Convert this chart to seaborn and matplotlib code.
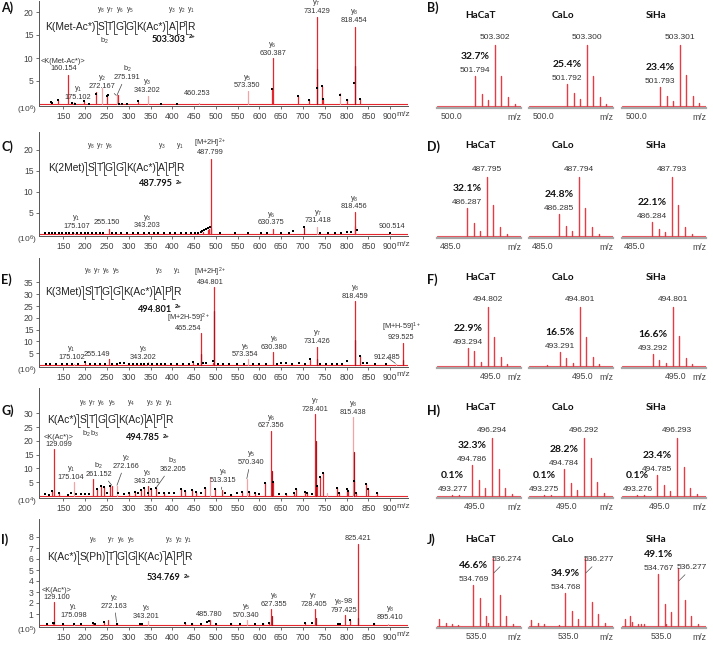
import numpy as np
import pandas as pd
import matplotlib
matplotlib.use("Agg")
import matplotlib.pyplot as plt
import matplotlib.transforms as mtransforms
from matplotlib.lines import Line2D
import seaborn as sns

# ========================= DATA =========================
# ---- Panel A : K(Met-Ac*)STGGK(Ac*)APR  (x10^6)
a_mz = [121, 137, 160.154, 175.102, 197, 224, 239, 249.5, 272.167, 275.191, 322, 343.202, 460.253, 573.350, 629,
        630.387, 688, 714, 731.429, 732.0, 743, 747, 784, 801, 818.454, 819.0, 831]
a_int = [0.5, 0.9, 6.3, 0.4, 0.6, 2.6, 3.4, 2.0, 1.9, 1.9, 0.5, 1.7, 0.3, 2.9, 3.3,
         10.0, 1.7, 0.8, 19.0, 7.6, 3.9, 1.1, 2.4, 1.0, 16.8, 8.3, 1.0]
a_tone = ["r", "r", "r", "p", "r", "r", "p", "r", "p", "r", "r", "p", "p", "p", "r",
          "r", "r", "r", "r", "d", "r", "r", "p", "r", "r", "d", "r"]
a_dot_mz = [121, 124, 137, 169, 176, 197, 208, 224, 249.5, 252, 278, 284, 296, 322, 374, 411, 629, 688, 714, 731,
            743, 747, 784, 801, 818, 831]
a_dot_int = [0.5, 0.3, 0.9, 0.2, 0.1, 0.7, 0.1, 2.2, 1.8, 2.0, 0.1, 0.1, 0.1, 0.6, 0.1, 0.1, 3.3, 1.7, 0.8, 3.4,
             3.9, 1.1, 2.0, 0.9, 4.5, 1.0]

# ---- Panel C : K(2Met)STGGK(Ac*)APR  (x10^6)
c_mz = [175.107, 255.150, 343.203, 470, 481, 485, 487.799, 488.3, 630.375, 703, 731.418, 818.456, 819.0, 900.514]
c_int = [0.3, 1.1, 0.2, 0.5, 0.9, 1.3, 17.8, 1.5, 1.2, 1.5, 1.7, 5.2, 1.8, 0.2]
c_tone = ["p", "r", "p", "r", "r", "r", "r", "r", "r", "d", "p", "r", "r", "p"]
c_dot_mz = [108, 116, 124, 131, 139, 147, 156, 164, 172, 181, 190, 199, 207, 216, 224, 233, 242, 262, 271, 283,
            297, 309, 322, 334, 346, 357, 368, 381, 394, 407, 420, 432, 444, 452, 459, 465, 469, 473, 478, 482,
            486, 509, 545, 574, 604, 617, 650, 668, 676, 703, 738, 758, 774, 787, 800, 810, 823, 900]
c_dot_int = [0.2, 0.15, 0.2, 0.15, 0.2, 0.15, 0.2, 0.15, 0.2, 0.15, 0.2, 0.15, 0.2, 0.15, 0.2, 0.15, 0.2, 0.3, 0.15, 0.2,
             0.15, 0.2, 0.15, 0.2, 0.15, 0.2, 0.15, 0.2, 0.15, 0.2, 0.2, 0.15, 0.2, 0.3, 0.3, 0.5, 0.7, 0.9, 1.1, 1.4,
             1.6, 0.2, 0.2, 0.2, 0.2, 0.2, 0.2, 0.2, 0.6, 1.6, 0.3, 0.2, 0.2, 0.2, 0.5, 0.4, 1.0, 0.25]

# ---- Panel E : K(3Met)STGGK(Ac*)APR  (x10^6)
e_mz = [175.102, 199, 255.149, 343.202, 448, 465.254, 466.0, 493, 494.801, 495.3, 573.354, 630.380, 717, 731.426,
        732.0, 818.459, 819.0, 830, 912.485, 929.525, 930.0]
e_int = [0.5, 0.8, 2.4, 1.3, 1.0, 13.5, 4.5, 1.0, 33.0, 23.0, 2.4, 5.3, 2.0, 7.8, 2.4, 27.0, 10.5, 3.8, 0.6, 9.5, 2.0]
e_tone = ["p", "r", "r", "p", "r", "r", "d", "r", "r", "d", "p", "r", "r", "r", "d", "r", "d", "r", "p", "r", "d"]
e_dot_mz = [110, 120, 133, 146, 158, 170, 183, 199, 210, 222, 235, 246, 262, 272, 281, 290, 300, 309, 318, 327,
            336, 345, 354, 364, 373, 383, 396, 410, 425, 438, 448, 459, 470, 478, 493, 505, 516, 530, 548, 565,
            585, 600, 616, 640, 650, 662, 675, 690, 704, 717, 740, 752, 766, 779, 790, 800, 830, 838, 848, 866, 890]
e_dot_int = [0.4, 0.3, 0.5, 0.4, 0.3, 0.5, 0.4, 1.4, 0.4, 0.3, 0.4, 0.3, 0.5, 0.4, 1.0, 0.9, 0.4, 0.3, 0.4, 0.5,
             0.4, 0.3, 0.5, 0.6, 0.4, 0.3, 0.5, 0.4, 0.6, 0.5, 1.2, 0.6, 0.7, 0.9, 1.7, 0.4, 0.6, 0.4, 0.5, 0.4,
             0.4, 0.5, 0.6, 0.5, 1.0, 1.0, 0.5, 1.0, 0.4, 2.5, 0.4, 0.5, 0.4, 0.4, 0.6, 1.5, 3.8, 1.0, 1.0, 0.5, 0.4]

# ---- Panel G : K(Ac*)STGGK(Ac)APR  (x10^4)
g_mz = [123, 129.099, 140, 175.104, 217, 226, 236, 244, 257, 261.152,
        272.166, 300, 315, 328, 336, 343.201, 352, 362.205, 380, 420,
        428, 445, 455, 475, 485.8, 497, 513.315, 535, 560, 570.340,
        575, 590, 612, 627.356, 628.0, 632, 660, 680, 685, 705,
        710, 728.401, 729.0, 732, 738, 745, 755, 778, 782, 800,
        803, 815.438, 816.0, 818, 822, 845, 850, 870]
g_int = [1.7, 17.0, 1.0, 5.0, 6.0, 2.5, 3.8, 3.2, 3.5, 3.8,
         3.8, 1.0, 1.5, 2.0, 2.8, 3.6, 2.5, 2.8, 1.0, 2.5,
         1.8, 2.0, 1.5, 3.0, 7.0, 2.5, 2.3, 0.5, 1.5, 6.3,
         1.5, 1.0, 4.8, 23.7, 9.0, 5.0, 0.8, 1.0, 2.5, 1.5,
         1.0, 29.8, 20.0, 3.5, 7.0, 8.5, 1.0, 3.0, 1.2, 2.6,
         1.8, 28.5, 15.9, 5.3, 1.0, 4.5, 2.5, 1.0]
g_tone = ["r", "r", "r", "p", "r", "r", "r", "r", "r", "r",
          "p", "r", "r", "r", "r", "r", "r", "r", "r", "r",
          "r", "r", "r", "r", "p", "r", "r", "r", "r", "p",
          "r", "r", "r", "r", "d", "r", "r", "r", "r", "r",
          "r", "r", "d", "r", "r", "r", "p", "r", "r", "r",
          "r", "p", "d", "r", "r", "r", "r", "r"]
g_dot_mz = [108, 116, 123, 140, 160, 167, 180, 190, 200, 208, 226, 236, 244, 250, 257, 275, 290, 300, 315, 322,
            328, 336, 345, 352, 362, 370, 380, 392, 405, 420, 428, 445, 455, 465, 475, 497, 520, 535, 548, 560,
            575, 590, 600, 612, 632, 645, 660, 680, 685, 705, 710, 720, 732, 738, 745, 778, 782, 800, 803, 818,
            822, 845, 850, 870]
g_dot_int = [0.8, 0.5, 1.7, 1.0, 0.5, 1.0, 0.6, 0.8, 0.6, 0.8, 2.5, 3.8, 3.2, 1.0, 3.5, 1.0, 0.8, 1.0, 1.5, 1.2,
             2.0, 2.8, 1.0, 2.5, 2.8, 1.0, 1.0, 1.2, 1.0, 2.5, 1.8, 2.0, 1.5, 1.0, 3.0, 2.5, 1.0, 0.5, 1.0, 1.5,
             1.5, 1.0, 0.8, 4.8, 5.0, 0.6, 0.8, 1.0, 2.5, 1.5, 1.0, 0.8, 3.5, 7.0, 8.5, 3.0, 1.2, 2.6, 1.8, 5.3,
             1.0, 4.5, 2.5, 1.0]

# ---- Panel I : K(Ac*)S(Ph)TGGK(Ac)APR  (x10^5)
i_mz = [112, 125, 129.100, 150, 175.098, 217, 243, 253, 272.163, 343.201,
        430, 446, 485.780, 500, 534, 570.340, 608, 622, 627.355, 628.0,
        705, 728.405, 729.0, 780, 797.425, 807, 825.421, 826.0, 862, 895.410]
i_int = [0.1, 0.3, 2.1, 0.1, 0.2, 0.2, 0.3, 0.5, 0.2, 0.4,
         0.2, 0.2, 0.45, 0.1, 0.15, 0.45, 0.15, 0.3, 1.5, 0.85,
         0.2, 1.5, 0.6, 0.2, 0.9, 0.45, 7.4, 0.6, 0.15, 0.1]
i_tone = ["r", "r", "r", "r", "p", "r", "r", "r", "r", "p",
          "r", "r", "r", "r", "r", "p", "r", "r", "r", "d",
          "r", "r", "d", "r", "r", "r", "r", "d", "r", "p"]
i_dot_mz = [112, 125, 129, 150, 175, 190, 217, 222, 243, 272, 325, 330, 430, 446, 466, 480, 485, 500, 534, 555,
            590, 608, 622, 705, 720, 780, 785, 807, 862]
i_dot_int = [0.05, 0.15, 0.2, 0.05, 0.05, 0.05, 0.2, 0.1, 0.25, 0.1, 0.1, 0.1, 0.2, 0.1, 0.1, 0.3, 0.35, 0.05, 0.1, 0.1,
             0.1, 0.1, 0.15, 0.2, 0.15, 0.1, 0.1, 0.45, 0.1]

# ---- isotope envelopes (relative intensity) ----
cell_lines = ["HaCaT", "CaLo", "SiHa"]

b_hacat_mz = [501.794, 502.295, 502.796, 503.302, 503.803, 504.304, 504.805]
b_hacat_int = [0.49, 0.20, 0.10, 1.0, 0.49, 0.14, 0.03]
b_calo_mz = [501.792, 502.293, 502.794, 503.300, 503.801, 504.302, 504.803]
b_calo_int = [0.36, 0.21, 0.11, 1.0, 0.49, 0.14, 0.04]
b_siha_mz = [501.793, 502.294, 502.795, 503.301, 503.802, 504.303, 504.804]
b_siha_int = [0.31, 0.17, 0.09, 1.0, 0.51, 0.16, 0.05]
b_pct = ["32.7%", "25.4%", "23.4%"]

d_hacat_mz = [486.287, 486.788, 487.289, 487.795, 488.296, 488.797, 489.298]
d_hacat_int = [0.47, 0.22, 0.08, 1.0, 0.52, 0.16, 0.04]
d_calo_mz = [486.285, 486.786, 487.287, 487.794, 488.295, 488.796, 489.297]
d_calo_int = [0.37, 0.17, 0.08, 1.0, 0.48, 0.15, 0.03]
d_siha_mz = [486.284, 486.785, 487.286, 487.793, 488.294, 488.795, 489.296]
d_siha_int = [0.23, 0.12, 0.06, 1.0, 0.52, 0.16, 0.04]
d_pct = ["32.1%", "24.8%", "22.1%"]

f_hacat_mz = [493.294, 493.795, 494.296, 494.802, 495.303, 495.804, 496.305]
f_hacat_int = [0.30, 0.25, 0.07, 1.0, 0.50, 0.16, 0.03]
f_calo_mz = [492.290, 493.291, 493.792, 494.293, 494.801, 495.302, 495.803, 496.304]
f_calo_int = [0.02, 0.23, 0.13, 0.045, 1.0, 0.49, 0.16, 0.03]
f_siha_mz = [493.292, 493.793, 494.294, 494.801, 495.302, 495.803, 496.304]
f_siha_int = [0.21, 0.10, 0.045, 1.0, 0.51, 0.13, 0.03]
f_pct = ["22.9%", "16.5%", "16.6%"]

h_hacat_mz = [493.277, 493.778, 494.786, 495.287, 495.788, 496.294, 496.795, 497.296, 497.797]
h_hacat_int = [0.02, 0.01, 0.54, 0.28, 0.13, 1.0, 0.47, 0.13, 0.03]
h_calo_mz = [493.275, 493.776, 494.784, 495.285, 495.786, 496.292, 496.793, 497.294, 497.795]
h_calo_int = [0.02, 0.01, 0.46, 0.22, 0.10, 1.0, 0.66, 0.25, 0.05]
h_siha_mz = [493.276, 493.777, 494.785, 495.286, 495.787, 496.293, 496.794, 497.295, 497.796]
h_siha_int = [0.02, 0.01, 0.36, 0.19, 0.09, 1.0, 0.50, 0.14, 0.03]
h_pct = ["32.3%", "28.2%", "23.4%"]
h_pct_low = ["0.1%", "0.1%", "0.1%"]

j_hacat_mz = [532.14, 532.69, 533.18, 533.60, 534.769, 535.270, 535.771, 535.85, 536.274, 536.775, 537.276, 537.777]
j_hacat_int = [0.10, 0.05, 0.03, 0.02, 0.60, 0.41, 0.15, 0.05, 1.0, 0.45, 0.15, 0.035]
j_calo_mz = [532.14, 532.69, 533.18, 534.25, 534.768, 535.269, 535.770, 536.277, 536.778, 537.279, 537.780]
j_calo_int = [0.085, 0.05, 0.025, 0.01, 0.49, 0.22, 0.10, 1.0, 0.36, 0.17, 0.04]
j_siha_mz = [532.22, 532.59, 532.74, 533.21, 533.41, 533.65, 534.767, 535.268, 535.35, 535.769, 536.277, 536.778,
             537.279, 537.780]
j_siha_int = [0.11, 0.14, 0.06, 0.025, 0.025, 0.025, 0.77, 0.32, 0.025, 0.20, 0.85, 0.38, 0.14, 0.025]
j_pct = ["46.6%", "34.9%", "49.1%"]

x_ticks = [150, 200, 250, 300, 350, 400, 450, 500, 550, 600, 650, 700, 750, 800, 850, 900]


def ion(letter, n):
    return "$\\mathregular{%s_{%s}}$" % (letter, n)


a_labels = [("<K(Met-Ac*)>\n160.154", 150, 7.0, None),
            (ion("y", 1) + "\n175.102", 184, 0.6, None),
            (ion("y", 2) + "\n272.167", 238, 3.0, (271, 1.9)),
            (ion("b", 2) + "\n275.191", 296, 5.0, (273, 1.9)),
            (ion("y", 3) + "\n343.202", 342, 2.2, None),
            ("460.253", 456, 1.5, None),
            (ion("y", 5) + "\n573.350", 571, 3.2, None),
            (ion("y", 6) + "\n630.387", 630, 10.3, None),
            (ion("y", 7) + "\n731.429", 731, 19.3, None),
            (ion("y", 8) + "\n818.454", 818, 17.4, None)]
c_labels = [(ion("y", 1) + "\n175.107", 180, 0.9, None),
            ("255.150", 250, 1.8, None),
            (ion("y", 3) + "\n343.203", 342, 1.1, None),
            ("[M+2H]$^{2+}$\n487.799", 488, 18.4, None),
            (ion("y", 6) + "\n630.375", 627, 1.8, None),
            (ion("y", 7) + "\n731.418", 734, 2.3, None),
            (ion("y", 8) + "\n818.456", 818, 5.6, None),
            ("900.514", 903, 1.0, None)]
e_labels = [(ion("y", 1) + "\n175.102", 168, 1.9, None),
            ("255.149", 226, 3.0, None),
            (ion("y", 3) + "\n343.202", 333, 1.6, None),
            ("[M+2H-59]$^{2+}$\n465.254", 437, 14.0, None),
            ("[M+2H]$^{2+}$\n494.801", 487, 33.6, None),
            (ion("y", 5) + "\n573.354", 567, 2.8, None),
            (ion("y", 6) + "\n630.380", 634, 5.9, None),
            (ion("y", 7) + "\n731.426", 732, 8.4, None),
            (ion("y", 8) + "\n818.459", 820, 27.6, None),
            ("912.485", 893, 1.8, (912, 0.7)),
            ("[M+H-59]$^{1+}$\n929.525", 925, 10.3, None)]
g_labels = [("<K(Ac*)>\n129.099", 140, 17.4, None),
            (ion("y", 1) + "\n175.104", 167, 5.4, None),
            (ion("b", 2) + "\n261.152", 231, 6.6, (261, 3.9)),
            (ion("y", 2) + "\n272.166", 293, 9.5, (273, 3.9)),
            (ion("y", 3) + "\n343.201", 343, 4.0, None),
            (ion("b", 3) + "\n362.205", 401, 8.4, (363, 3.0)),
            (ion("y", 4) + "\n513.315", 516, 4.4, (513, 2.4)),
            (ion("y", 5) + "\n570.340", 581, 10.8, (571, 6.3)),
            (ion("y", 6) + "\n627.356", 627, 24.1, None),
            (ion("y", 7) + "\n728.401", 727, 30.2, None),
            (ion("y", 8) + "\n815.438", 815, 28.9, None)]
i_labels = [("<K(Ac*)>\n129.100", 134, 2.2, None),
            (ion("y", 1) + "\n175.098", 173, 0.55, None),
            (ion("y", 2) + "\n272.163", 266, 1.4, (272, 0.25)),
            (ion("y", 3) + "\n343.201", 340, 0.5, None),
            ("485.780", 484, 0.6, None),
            (ion("y", 5) + "\n570.340", 569, 0.55, None),
            (ion("y", 6) + "\n627.355", 634, 1.55, None),
            (ion("y", 7) + "\n728.405", 724, 1.55, None),
            (ion("y", 8) + "-98\n797.425", 794, 1.0, None),
            ("825.421", 825, 7.5, None),
            (ion("y", 8) + "\n895.410", 899, 0.35, None)]

# ========================= STYLE / LAYOUT =========================
sns.set_theme(style="ticks")
plt.rcParams["font.family"] = ["Liberation Sans", "DejaVu Sans"]
plt.rcParams["mathtext.fontset"] = "custom"
plt.rcParams["mathtext.rm"] = "Liberation Sans"
plt.rcParams["mathtext.it"] = "Liberation Sans:italic"
plt.rcParams["mathtext.bf"] = "Liberation Sans:bold"

W, H = 713, 646
RED = "#e4262f"
PINK = "#f3a3a6"
DARK = "#b3101b"
TONES = {"p": PINK, "r": RED, "d": DARK}
TXT = "#333333"
BOLDFONT = ["Lato", "Liberation Sans", "DejaVu Sans"]
LETTER_Y = {"A": 8, "B": 8, "C": 147, "D": 147, "E": 280, "F": 280, "G": 411, "H": 411, "I": 540, "J": 540}

fig = plt.figure(figsize=(W / 100, H / 100), dpi=100)
fig.patch.set_facecolor("white")
PX = mtransforms.Affine2D().scale(1 / W, -1 / H).translate(0, 1) + fig.transFigure
REND = fig.canvas.get_renderer()


def stems_df(mz, inten, tone=None):
    n = len(mz)
    d = pd.DataFrame({
        "pid": np.repeat(np.arange(n), 2),
        "mz": np.repeat(np.asarray(mz, float), 2),
        "int": np.column_stack([np.zeros(n), np.asarray(inten, float)]).ravel(),
    })
    if tone is not None:
        d["tone"] = np.repeat(np.asarray(tone), 2)
    return d


def draw_sequence(residues, y_ions, b_ions, x0, yc, ydy, prec, prec_xy, fs=7.4, gap=2.4):
    x = x0
    centers, seps = [], []
    for i, res in enumerate(residues):
        t = fig.text(x, yc, res, transform=PX, fontsize=fs, ha="left", va="center", color="#222222")
        w = t.get_window_extent(renderer=REND).width
        centers.append(x + w / 2)
        x += w
        if i < len(residues) - 1:
            seps.append(x + gap / 2)
            x += gap
    hh = 6.5
    for s in seps:
        fig.add_artist(Line2D([s - 2.2, s, s, s + 2.2], [yc - hh, yc - hh, yc + hh, yc + hh],
                              transform=PX, color="#333333", lw=0.6))
    for i, lab in y_ions.items():
        fig.text(centers[i], yc + ydy, ion("y", lab), transform=PX, fontsize=4.8, ha="center",
                 va="center", color="#333333")
    for j, lab in b_ions.items():
        fig.text(seps[j] - 1, yc + 14, ion("b", lab), transform=PX, fontsize=5.3, ha="center",
                 va="center", color="#333333")
    tp = fig.text(prec_xy[0], prec_xy[1], prec, transform=PX, fontsize=6.6, fontweight="bold",
                  family=BOLDFONT, ha="left", va="center", color="#111111")
    wp = tp.get_window_extent(renderer=REND).width
    fig.text(prec_xy[0] + wp + 3, prec_xy[1] - 2, "2+", transform=PX, fontsize=4.2, fontweight="bold",
             ha="left", va="center", color="#111111")


LEFT = [
    dict(letter="A", mz=a_mz, inten=a_int, tone=a_tone, dmz=a_dot_mz, dint=a_dot_int, labels=a_labels,
         zero=104, ppu=4.6, top=1, yticks=[5, 10, 15, 20], exp="6",
         seq=["K(Met-Ac*)", "S", "T", "G", "G", "K(Ac*)", "A", "P", "R"],
         yions={1: 8, 2: 7, 3: 6, 4: 5, 6: 3, 7: 2, 8: 1}, bions={1: 2},
         x0=45, yc=27, ydy=-17, prec="503.303", prec_xy=(152, 39)),
    dict(letter="C", mz=c_mz, inten=c_int, tone=c_tone, dmz=c_dot_mz, dint=c_dot_int, labels=c_labels,
         zero=234, ppu=4.22, top=132, yticks=[5, 10, 15, 20], exp="6",
         seq=["K(2Met)", "S", "T", "G", "G", "K(Ac*)", "A", "P", "R"],
         yions={1: 8, 2: 7, 3: 6, 6: 3, 8: 1}, bions={},
         x0=48, yc=168, ydy=-22, prec="487.795", prec_xy=(139, 184)),
    dict(letter="E", mz=e_mz, inten=e_int, tone=e_tone, dmz=e_dot_mz, dint=e_dot_int, labels=e_labels,
         zero=365, ppu=2.36, top=258, yticks=[5, 10, 15, 20, 25, 30, 35], exp="6",
         seq=["K(3Met)", "S", "T", "G", "G", "K(Ac*)", "A", "P", "R"],
         yions={1: 8, 2: 7, 3: 6, 4: 5, 6: 3, 8: 1}, bions={},
         x0=45, yc=292, ydy=-21, prec="494.801", prec_xy=(138, 309)),
    dict(letter="G", mz=g_mz, inten=g_int, tone=g_tone, dmz=g_dot_mz, dint=g_dot_int, labels=g_labels,
         zero=496, ppu=2.76, top=388, yticks=[5, 10, 15, 20, 25, 30], exp="4",
         seq=["K(Ac*)", "S", "T", "G", "G", "K(Ac)", "A", "P", "R"],
         yions={1: 8, 2: 7, 3: 6, 4: 5, 5: 4, 6: 3, 7: 2, 8: 1}, bions={1: 2, 2: 3},
         x0=47, yc=420, ydy=-17, prec="494.785", prec_xy=(126, 438)),
    dict(letter="I", mz=i_mz, inten=i_int, tone=i_tone, dmz=i_dot_mz, dint=i_dot_int, labels=i_labels,
         zero=625, ppu=11.0, top=519, yticks=[1, 2, 3, 4, 5, 6, 7, 8], exp="5",
         seq=["K(Ac*)", "S(Ph)", "T", "G", "G", "K(Ac)", "A", "P", "R"],
         yions={1: 8, 2: 7, 3: 6, 4: 5, 6: 3, 7: 2, 8: 1}, bions={},
         x0=47, yc=557, ydy=-17, prec="534.769", prec_xy=(147, 578)),
]

for p in LEFT:
    zero, ppu, top = p["zero"], p["ppu"], p["top"]
    ax = fig.add_axes([39 / W, 1 - (zero + 2) / H, 369 / W, (zero + 2 - top) / H])
    ax.set_facecolor("none")
    ax.axhline(0, color=RED, lw=0.8, zorder=1)
    d = stems_df(p["mz"], p["inten"], p["tone"])
    order = [t for t in ("p", "r", "d") if t in set(p["tone"])]
    sns.lineplot(data=d, x="mz", y="int", units="pid", estimator=None, hue="tone", hue_order=order,
                 palette={k: TONES[k] for k in order}, lw=0.9, legend=False, sort=False, ax=ax)
    sns.scatterplot(x=p["dmz"], y=p["dint"], color="black", s=3.5, marker="s", linewidth=0, ax=ax,
                    legend=False, zorder=4)
    ax.set_xlim(94, 941)
    ax.set_ylim(-2 / ppu, (zero - top) / ppu)
    ax.set_xticks(x_ticks)
    ax.set_yticks(p["yticks"])
    ax.set_xlabel("")
    ax.set_ylabel("")
    ax.tick_params(axis="both", labelsize=6.2, colors="#555555", length=2, width=0.6, pad=2, labelcolor="#444444")
    for s in ("top", "right"):
        ax.spines[s].set_visible(False)
    for s in ("left", "bottom"):
        ax.spines[s].set_color("#555555")
        ax.spines[s].set_linewidth(0.7)
    ax.annotate("m/z", xy=(929, 0), xycoords=("data", "axes fraction"), xytext=(0, -4.5),
                textcoords="offset pixels", ha="center", va="top", fontsize=6.0, color="#444444")
    for txt, lx, ly, tgt in p["labels"]:
        if tgt is None:
            ax.text(lx, ly, txt, ha="center", va="bottom", fontsize=5.3, color=TXT, linespacing=0.95, zorder=6)
        else:
            ax.annotate(txt, xy=tgt, xytext=(lx, ly), ha="center", va="bottom", fontsize=5.3, color=TXT,
                        linespacing=0.95, zorder=6,
                        arrowprops=dict(arrowstyle="-", lw=0.5, color="#444444", shrinkA=0, shrinkB=0))
    fig.text(37, zero + 6, "(10$^{%s}$)" % p["exp"], transform=PX, fontsize=6, ha="right", va="center",
             color="#444444")
    fig.text(1, LETTER_Y[p["letter"]], p["letter"] + ")", transform=PX, fontsize=9,
             fontweight="bold", family=BOLDFONT, ha="left", va="center", color="#111111")
    draw_sequence(p["seq"], p["yions"], p["bions"], p["x0"], p["yc"], p["ydy"], p["prec"], p["prec_xy"])

# ---------------- right-hand isotope panels ----------------
RPX = [(437, 521), (529, 613), (622, 706)]
TITLE_X = [480, 563, 656]
RIGHT = [
    dict(letter="B", zero=106, ppu=61, ty=16, xlim=(498.9, 505.3), tick=500.0, pct=b_pct, low=None,
         cells=[(b_hacat_mz, b_hacat_int, 3, 0, None), (b_calo_mz, b_calo_int, 3, 0, None),
                (b_siha_mz, b_siha_int, 3, 0, None)], lead=False),
    dict(letter="D", zero=236, ppu=59, ty=146, xlim=(484.0, 490.4), tick=485.0, pct=d_pct, low=None,
         cells=[(d_hacat_mz, d_hacat_int, 3, 0, None), (d_calo_mz, d_calo_int, 3, 0, None),
                (d_siha_mz, d_siha_int, 3, 0, None)], lead=False),
    dict(letter="F", zero=366, ppu=59, ty=277, xlim=(490.95, 497.35), tick=495.0, pct=f_pct, low=None,
         cells=[(f_hacat_mz, f_hacat_int, 3, 0, None), (f_calo_mz, f_calo_int, 4, 1, None),
                (f_siha_mz, f_siha_int, 3, 0, None)], lead=False),
    dict(letter="H", zero=496, ppu=58, ty=407, xlim=(492.1, 498.5), tick=495.0, pct=h_pct, low=h_pct_low,
         cells=[(h_hacat_mz, h_hacat_int, 5, 2, 0), (h_calo_mz, h_calo_int, 5, 2, 0),
                (h_siha_mz, h_siha_int, 5, 2, 0)], lead=False),
    dict(letter="J", zero=626, ppu=68, ty=539, xlim=(532.0, 538.4), tick=535.0, pct=j_pct, low=None,
         cells=[(j_hacat_mz, j_hacat_int, 8, 4, None), (j_calo_mz, j_calo_int, 7, 4, None),
                (j_siha_mz, j_siha_int, 10, 6, None)], lead=True),
]

for row in RIGHT:
    zero, ppu = row["zero"], row["ppu"]
    fig.text(427, LETTER_Y[row["letter"]], row["letter"] + ")", transform=PX, fontsize=9, fontweight="bold",
             family=BOLDFONT, ha="left", va="center", color="#111111")
    for k, (cell, (l, r)) in enumerate(zip(row["cells"], RPX)):
        mzs, ints, it, i2, i3 = cell
        ax = fig.add_axes([l / W, 1 - (zero + 2) / H, (r - l) / W, 77 / H])
        ax.set_facecolor("none")
        ax.axhline(0, color=RED, lw=0.8, alpha=0.8, zorder=1)
        d = stems_df(mzs, ints)
        sns.lineplot(data=d, x="mz", y="int", units="pid", estimator=None, color=RED, lw=1.0, alpha=0.9,
                     legend=False, sort=False, ax=ax)
        ax.set_xlim(*row["xlim"])
        ax.set_ylim(-2 / ppu, 75 / ppu)
        ax.set_xticks([row["tick"]])
        ax.set_xticklabels(["%.1f" % row["tick"]])
        ax.set_yticks([])
        ax.set_xlabel("")
        ax.set_ylabel("")
        ax.tick_params(axis="x", length=0, pad=3, labelsize=6.2, labelcolor="#444444")
        for s in ("top", "right", "left"):
            ax.spines[s].set_visible(False)
        ax.spines["bottom"].set_color("#a8a8a8")
        ax.spines["bottom"].set_linewidth(1.6)
        ax.annotate("m/z", xy=(1, 0), xycoords="axes fraction", xytext=(0, -4.5), textcoords="offset pixels",
                    ha="right", va="top", fontsize=6.2, color="#444444")
        # tallest peak label
        if row["lead"]:
            ax.annotate("%.3f" % mzs[it], xy=(mzs[it] + 0.05, ints[it] * 0.78), xytext=(13, 13),
                        textcoords="offset pixels", ha="center", va="center", fontsize=6, color=TXT,
                        arrowprops=dict(arrowstyle="-", lw=0.5, color="#555555", shrinkA=0, shrinkB=0),
                        annotation_clip=False)
        else:
            ax.annotate("%.3f" % mzs[it], xy=(mzs[it], ints[it]), xytext=(0, 4), textcoords="offset pixels",
                        ha="center", va="bottom", fontsize=6, color=TXT, annotation_clip=False)
        # labelled lighter isotopologue
        ax.annotate("%.3f" % mzs[i2], xy=(mzs[i2], ints[i2]), xytext=(0, 2), textcoords="offset pixels",
                    ha="center", va="bottom", fontsize=6, color=TXT, annotation_clip=False)
        ax.annotate(row["pct"][k], xy=(mzs[i2], ints[i2]), xytext=(0, 15), textcoords="offset pixels",
                    ha="center", va="bottom", fontsize=7.5, fontweight="bold", family=BOLDFONT,
                    color="#111111", annotation_clip=False)
        if i3 is not None:
            ax.annotate("%.3f" % mzs[i3], xy=(mzs[i3], ints[i3]), xytext=(0, 2), textcoords="offset pixels",
                        ha="center", va="bottom", fontsize=6, color=TXT, annotation_clip=False)
            ax.annotate(row["low"][k], xy=(mzs[i3], ints[i3]), xytext=(0, 15), textcoords="offset pixels",
                        ha="center", va="bottom", fontsize=7.5, fontweight="bold", family=BOLDFONT,
                        color="#111111", annotation_clip=False)
        fig.text(TITLE_X[k], row["ty"], cell_lines[k], transform=PX, fontsize=7.2, fontweight="bold",
                 family=BOLDFONT, ha="center", va="center", color="#111111")

fig.savefig("out.png", dpi=100, facecolor="white")
